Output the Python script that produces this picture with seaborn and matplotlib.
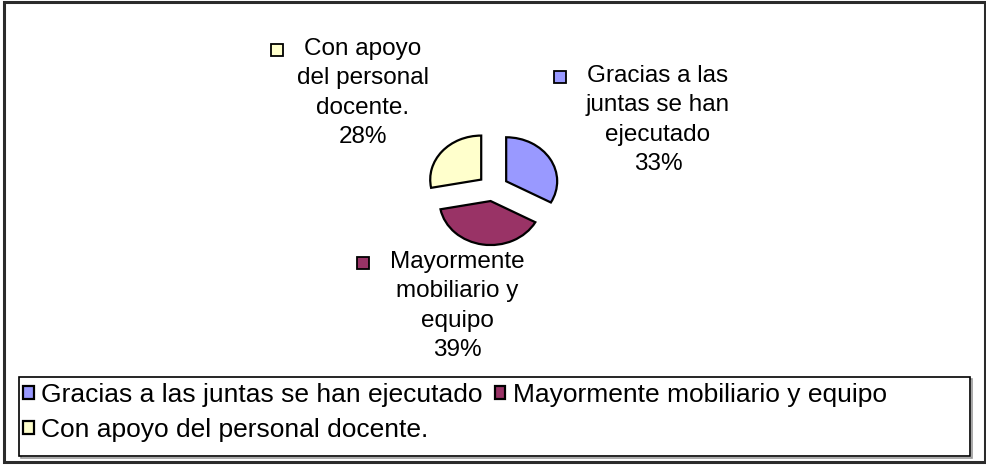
import matplotlib
matplotlib.use("Agg")
import matplotlib.pyplot as plt
from matplotlib.patches import Rectangle
import seaborn as sns

categories = ["Gracias a las juntas se han ejecutado",
              "Mayormente mobiliario y equipo",
              "Con apoyo del personal docente."]
shares = [33, 39, 28]
label_lines = [["Gracias a las", "juntas se han", "ejecutado"],
               ["Mayormente", "mobiliario y", "equipo"],
               ["Con apoyo", "del personal", "docente."]]
colors = ["#9999FF", "#993366", "#FFFFCC"]

sns.set_theme(style="white")
plt.rcParams["font.family"] = ["Liberation Sans", "DejaVu Sans"]
plt.rcParams["text.color"] = "black"

W, H = 987, 466
fig = plt.figure(figsize=(W / 100, H / 100), dpi=100)


def px(x, y):
    # pixel (from top left) -> figure fraction
    return x / W, 1 - y / H


def box(x0, y0, x1, y1, **kw):
    r = Rectangle(px(x0, y1), (x1 - x0) / W, (y1 - y0) / H,
                  transform=fig.transFigure, **kw)
    fig.add_artist(r)
    return r


# pie axes, slightly squashed like the original
cx, cy, rx, ry, lim = 493, 188, 51, 44, 1.5
ax = fig.add_axes([(cx - lim * rx) / W, 1 - (cy + lim * ry) / H,
                   2 * lim * rx / W, 2 * lim * ry / H])
wedges, _ = ax.pie(shares, colors=colors, startangle=90, counterclock=False,
                   explode=[0.3] * len(shares),
                   wedgeprops=dict(edgecolor="black", linewidth=1.6))
ax.set_aspect("auto")
ax.set_xlim(-lim, lim)
ax.set_ylim(-lim, lim)
ax.axis("off")

# data labels with a colour key in front of the first line
label_pos = [(658, 120), (457, 306), (363, 93)]
fs = 17.5
renderer = fig.canvas.get_renderer()
for lines, share, color, (x, y) in zip(label_lines, shares, colors, label_pos):
    block = fig.text(*px(x, y), "\n".join(lines + [f"{share}%"]), ha="center",
                     va="center", fontsize=fs, linespacing=1.42)
    tmp = fig.text(0, 0, lines[0], fontsize=fs)
    ext = tmp.get_window_extent(renderer)
    tmp.remove()
    bb = block.get_window_extent(renderer)
    ky = H - bb.y1 + ext.height / 2 + 1
    kx = x - ext.width / 2 - 21
    box(kx - 12, ky - 6, kx, ky + 6, facecolor=color, edgecolor="black", lw=1.3)

# legend at the bottom (Excel fills rows first)
order = [0, 2, 1]
box(21, 379, 972, 458, facecolor="none", edgecolor="#9a9a9a", lw=1.2)
box(19, 377, 970, 456, facecolor="white", edgecolor="black", lw=1.2)
fig.legend([wedges[i] for i in order], [categories[i] for i in order],
           ncol=2, loc="upper left", bbox_to_anchor=px(23, 383),
           frameon=False, fontsize=19,
           handlelength=0.4, handleheight=0.4, handletextpad=0.3,
           columnspacing=0.45, labelspacing=0.42, borderpad=0, borderaxespad=0)

# outer chart border
box(4, 2, 985, 462, facecolor="none", edgecolor="#2b2b2b", lw=2.2)

fig.savefig("out.png", dpi=100)
